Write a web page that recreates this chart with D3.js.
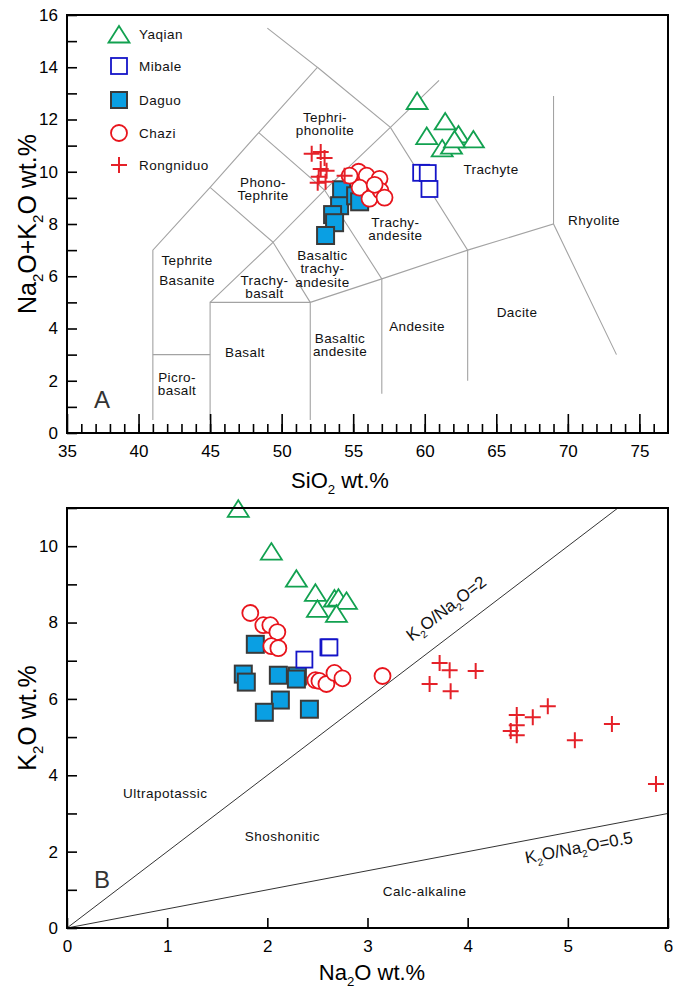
<!DOCTYPE html>
<html>
<head>
<meta charset="utf-8">
<script src="https://cdn.jsdelivr.net/npm/d3@7"></script>
<style>
body { margin: 0; background: #fff; }
svg { font-family: "Liberation Sans", Arial, sans-serif; }
</style>
</head>
<body>
<svg width="673" height="992"></svg>
<script>
// ---- data: TAS diagram (SiO2, Na2O+K2O) ----
const yaqianTAS = [[59.47,12.65],[61.43,11.87],[60.14,11.31],[62.36,11.37],[63.40,11.18],[61.22,10.84],[61.87,10.94],[62.08,11.18]];
const mibaleTAS = [[59.75,9.96],[60.21,9.95],[60.33,9.34]];
const daguoTAS = [[54.19,9.31],[54.05,8.70],[53.56,8.36],[53.70,8.05],[53.07,7.56],[55.17,9.08],[55.45,8.85]];
const chaziTAS = [[55.38,10.00],[55.94,9.85],[56.84,9.73],[55.45,9.39],[56.14,8.97],[56.91,9.27],[57.19,9.01],[54.75,9.85],[56.50,9.50]];
const rongTAS = [[52.10,10.69],[52.73,10.76],[53.00,10.53],[52.73,10.11],[53.14,10.04],[52.59,9.81],[52.52,9.58],[53.07,9.62],[54.40,9.85]];

// ---- data: K2O vs Na2O ----
const yaqianKN = [[1.71,10.94],[2.04,9.82],[2.29,9.11],[2.48,8.74],[2.50,8.32],[2.67,8.59],[2.71,8.61],[2.79,8.53],[2.69,8.19]];
const mibaleKN = [[2.37,7.03],[2.61,7.35],[2.62,7.35]];
const daguoKN = [[1.88,7.43],[1.76,6.65],[1.79,6.44],[2.11,6.62],[2.30,6.60],[2.29,6.52],[2.13,5.97],[1.97,5.65],[2.42,5.73]];
const chaziKN = [[1.83,8.25],[1.96,7.93],[2.03,7.93],[2.10,7.75],[2.04,7.38],[2.11,7.33],[2.48,6.49],[2.52,6.47],[2.59,6.39],[2.67,6.68],[2.75,6.54],[3.15,6.60]];
const rongKN = [[3.72,6.94],[3.82,6.75],[4.08,6.73],[3.62,6.39],[3.83,6.20],[4.49,5.58],[4.65,5.52],[4.80,5.81],[4.49,5.31],[4.43,5.16],[4.49,5.05],[5.07,4.92],[5.44,5.34],[5.88,3.77]];

// TAS field boundaries (SiO2, alkalis)
const tasLines = [
  [[41,0.5],[41,7],[45,9.4],[48.4,11.5],[52.5,14],[49,15.5]],
  [[41,3],[45,3]],
  [[45,0.5],[45,5],[52,5],[52,0.5]],
  [[45,5],[49.4,7.3],[52,5]],
  [[45,9.4],[49.4,7.3],[53,9.3],[57.6,11.7],[61,13.5]],
  [[48.4,11.5],[53,9.3],[57,5.9],[57,1.5]],
  [[52,5],[57,5.9],[63,7],[69,8],[73.4,3.0]],
  [[52.5,14],[57.6,11.7],[63,7],[63,2]],
  [[69,8],[69,12.9]]
];

// TAS field names: [lines, SiO2, alkalis]
const tasNames = [
  [['Tephri-','phonolite'],53.03,12.10],
  [['Phono-','Tephrite'],48.70,9.61],
  [['Trachy-','andesite'],57.95,8.08],
  [['Trachyte'],64.63,10.11],
  [['Rhyolite'],71.83,8.15],
  [['Basaltic','trachy-','andesite'],52.85,6.81],
  [['Trachy-','basalt'],48.8,5.86],
  [['Andesite'],59.46,4.10],
  [['Dacite'],66.45,4.63],
  [['Basaltic','andesite'],54.08,3.64],
  [['Basalt'],47.44,3.10],
  [['Picro-','basalt'],42.69,2.14]
];

// ratio lines K2O/Na2O
const ratios = [2, 0.5];
const knNames = [['Ultrapotassic',0.98,3.54],['Shoshonitic',2.15,2.41],['Calc-alkaline',3.57,0.97]];

const legendNames = ['Yaqian','Mibale','Daguo','Chazi','Rongniduo'];

const GREEN = '#12a150', BLUE = '#1414c8', CYAN = '#0a9fe3', RED = '#e8141c', RED2 = '#e52129';

var svg = d3.select('svg');

/* helpers */
function rich(text, parts, size) {
  var prev = false;
  parts.forEach(function(p) {
    var sub = p[1];
    var dy = sub ? size * 0.28 : (prev ? -size * 0.28 : 0);
    text.append('tspan')
      .attr('font-size', sub ? size * 0.6 : size)
      .attr('dy', dy)
      .text(p[0]);
    prev = sub;
  });
}

function triPath(x, y) {
  return 'M' + x + ',' + (y - 10) + 'L' + (x + 10.5) + ',' + (y + 6.5) + 'L' + (x - 10.5) + ',' + (y + 6.5) + 'Z';
}
function plusPath(x, y) {
  return 'M' + (x - 8) + ',' + y + 'H' + (x + 8) + 'M' + x + ',' + (y - 8) + 'V' + (y + 8);
}

function drawPoints(g, sx, sy, yq, mb, dg, cz, rn) {
  g.selectAll('.dg').data(dg).enter().append('rect')
    .attr('x', d => sx(d[0]) - 8.5).attr('y', d => sy(d[1]) - 8.5)
    .attr('width', 17).attr('height', 17)
    .attr('fill', CYAN).attr('stroke', '#3a3a3a').attr('stroke-width', 2);
  g.selectAll('.mb').data(mb).enter().append('rect')
    .attr('x', d => sx(d[0]) - 8).attr('y', d => sy(d[1]) - 8)
    .attr('width', 16).attr('height', 16)
    .attr('fill', '#fff').attr('stroke', BLUE).attr('stroke-width', 1.8);
  g.selectAll('.cz').data(cz).enter().append('circle')
    .attr('cx', d => sx(d[0])).attr('cy', d => sy(d[1])).attr('r', 8)
    .attr('fill', '#fff').attr('stroke', RED).attr('stroke-width', 1.8);
  g.selectAll('.yq').data(yq).enter().append('path')
    .attr('d', d => triPath(sx(d[0]), sy(d[1])))
    .attr('fill', '#fff').attr('stroke', GREEN).attr('stroke-width', 1.8);
  g.selectAll('.rn').data(rn).enter().append('path')
    .attr('d', d => plusPath(sx(d[0]), sy(d[1])))
    .attr('fill', 'none').attr('stroke', RED2).attr('stroke-width', 2);
}

function styleAxis(g, size) {
  g.select('.domain').remove();
  g.selectAll('line').attr('stroke', '#000').attr('stroke-width', 1.6);
  g.selectAll('text').attr('font-size', size).attr('fill', '#000')
    .attr('font-family', '"Liberation Sans", Arial, sans-serif');
}

/* ===== Panel A ===== */
var xA = d3.scaleLinear().domain([35, 77]).range([67, 668]);
var yA = d3.scaleLinear().domain([0, 16]).range([433, 15]);

var gA = svg.append('g');

gA.selectAll('.tas').data(tasLines).enter().append('path')
  .attr('d', d3.line().x(d => xA(d[0])).y(d => yA(d[1])))
  .attr('fill', 'none').attr('stroke', '#a3a3a3').attr('stroke-width', 1.1);

tasNames.forEach(function(n) {
  var t = gA.append('text')
    .attr('x', xA(n[1])).attr('y', yA(n[2]))
    .attr('text-anchor', 'middle')
    .attr('font-size', 13.5).attr('letter-spacing', 0.4)
    .attr('fill', '#111');
  n[0].forEach(function(s, i) {
    t.append('tspan').attr('x', xA(n[1])).attr('dy', i === 0 ? '0.35em' : 13.5).text(s);
  });
});
// Tephrite Basanite has wider line spacing
var tb = gA.append('text').attr('text-anchor', 'middle')
  .attr('font-size', 13.5).attr('letter-spacing', 0.4).attr('fill', '#111');
tb.append('tspan').attr('x', xA(43.39)).attr('y', yA(6.62)).attr('dy', '0.35em').text('Tephrite');
tb.append('tspan').attr('x', xA(43.39)).attr('y', yA(5.86)).attr('dy', '0.35em').text('Basanite');

gA.append('text').attr('x', xA(37.45)).attr('y', yA(1.26)).attr('dy', '0.35em')
  .attr('text-anchor', 'middle').attr('font-size', 24).attr('fill', '#333').text('A');

drawPoints(gA, xA, yA, yaqianTAS, mibaleTAS, daguoTAS, chaziTAS, rongTAS);

// axes A
gA.append('g').attr('transform', 'translate(0,' + yA(0) + ')')
  .call(d3.axisBottom(xA).tickValues(d3.range(36, 77)).tickSize(-9).tickFormat(''))
  .call(g => styleAxis(g, 17));
gA.append('g').attr('transform', 'translate(0,' + yA(0) + ')')
  .call(d3.axisBottom(xA).tickValues(d3.range(35, 80, 5)).tickSize(-19).tickPadding(12))
  .call(g => styleAxis(g, 17));
gA.append('g').attr('transform', 'translate(' + xA(35) + ',0)')
  .call(d3.axisLeft(yA).tickValues(d3.range(0, 17)).tickSize(-10).tickPadding(9)
    .tickFormat(d => d % 2 === 0 ? d : ''))
  .call(g => styleAxis(g, 17));

gA.append('rect').attr('x', 67).attr('y', 15).attr('width', 601).attr('height', 418)
  .attr('fill', 'none').attr('stroke', '#000').attr('stroke-width', 2);

rich(gA.append('text').attr('x', 340).attr('y', 488).attr('text-anchor', 'middle'),
  [['SiO', 0], ['2', 1], [' wt.%', 0]], 22);
rich(gA.append('text').attr('transform', 'translate(36,224) rotate(-90)').attr('text-anchor', 'middle'),
  [['Na', 0], ['2', 1], ['O+K', 0], ['2', 1], ['O wt.%', 0]], 25);

// legend
var leg = gA.append('g');
var legY = [34, 66, 100, 133, 165];
leg.append('path').attr('d', triPath(119, legY[0] + 2)).attr('fill', '#fff').attr('stroke', GREEN).attr('stroke-width', 1.8);
leg.append('rect').attr('x', 111).attr('y', legY[1] - 8).attr('width', 16).attr('height', 16)
  .attr('fill', '#fff').attr('stroke', BLUE).attr('stroke-width', 1.8);
leg.append('rect').attr('x', 111).attr('y', legY[2] - 8).attr('width', 16).attr('height', 16)
  .attr('fill', CYAN).attr('stroke', '#3a3a3a').attr('stroke-width', 2);
leg.append('circle').attr('cx', 119).attr('cy', legY[3]).attr('r', 8)
  .attr('fill', '#fff').attr('stroke', RED).attr('stroke-width', 1.8);
leg.append('path').attr('d', plusPath(119, legY[4])).attr('stroke', RED2).attr('stroke-width', 2);
legendNames.forEach(function(n, i) {
  leg.append('text').attr('x', 139).attr('y', legY[i]).attr('dy', '0.35em')
    .attr('font-size', 13.5).attr('letter-spacing', 0.5).attr('fill', '#111').text(n);
});

/* ===== Panel B ===== */
var xB = d3.scaleLinear().domain([0, 6]).range([67, 668]);
var yB = d3.scaleLinear().domain([0, 11]).range([928, 508]);

var gB = svg.append('g');

gB.append('defs').append('clipPath').attr('id', 'clipB')
  .append('rect').attr('x', 67).attr('y', 508).attr('width', 601).attr('height', 420);

gB.selectAll('.ratio').data(ratios).enter().append('line')
  .attr('clip-path', 'url(#clipB)')
  .attr('x1', xB(0)).attr('y1', yB(0))
  .attr('x2', r => xB(6)).attr('y2', r => yB(6 * r))
  .attr('stroke', '#333').attr('stroke-width', 1);

knNames.forEach(function(n) {
  gB.append('text').attr('x', xB(n[1])).attr('y', yB(n[2])).attr('dy', '0.35em')
    .attr('text-anchor', 'middle').attr('font-size', 13.5).attr('letter-spacing', 0.5)
    .attr('fill', '#111').text(n[0]);
});

function ratioLabel(r, nx, ny, last) {
  var ang = -Math.atan2(yB(0) - yB(r), xB(1) - xB(0)) * 180 / Math.PI;
  var t = gB.append('text')
    .attr('transform', 'translate(' + xB(nx) + ',' + yB(ny) + ') rotate(' + ang + ')')
    .attr('text-anchor', 'middle').attr('dy', '0.35em').attr('fill', '#111');
  rich(t, [['K', 0], ['2', 1], ['O/Na', 0], ['2', 1], ['O=' + last, 0]], 17);
}
ratioLabel(2, 3.82, 8.25, '2');
ratioLabel(0.5, 5.12, 1.96, '0.5');

gB.append('text').attr('x', xB(0.35)).attr('y', yB(1.26)).attr('dy', '0.35em')
  .attr('text-anchor', 'middle').attr('font-size', 24).attr('fill', '#333').text('B');

drawPoints(gB, xB, yB, yaqianKN, mibaleKN, daguoKN, chaziKN, rongKN);

gB.append('g').attr('transform', 'translate(0,' + yB(0) + ')')
  .call(d3.axisBottom(xB).tickValues(d3.range(0, 7)).tickSize(-10).tickPadding(12)
    .tickFormat(d3.format('d')))
  .call(g => styleAxis(g, 17));
gB.append('g').attr('transform', 'translate(' + xB(0) + ',0)')
  .call(d3.axisLeft(yB).tickValues(d3.range(0, 12)).tickSize(-10).tickPadding(9)
    .tickFormat(d => d % 2 === 0 ? d : ''))
  .call(g => styleAxis(g, 17));

gB.append('rect').attr('x', 67).attr('y', 508).attr('width', 601).attr('height', 420)
  .attr('fill', 'none').attr('stroke', '#000').attr('stroke-width', 2);

rich(gB.append('text').attr('x', 372).attr('y', 980).attr('text-anchor', 'middle'),
  [['Na', 0], ['2', 1], ['O wt.%', 0]], 22);
rich(gB.append('text').attr('transform', 'translate(36,718) rotate(-90)').attr('text-anchor', 'middle'),
  [['K', 0], ['2', 1], ['O wt.%', 0]], 25);
</script>
</body>
</html>
